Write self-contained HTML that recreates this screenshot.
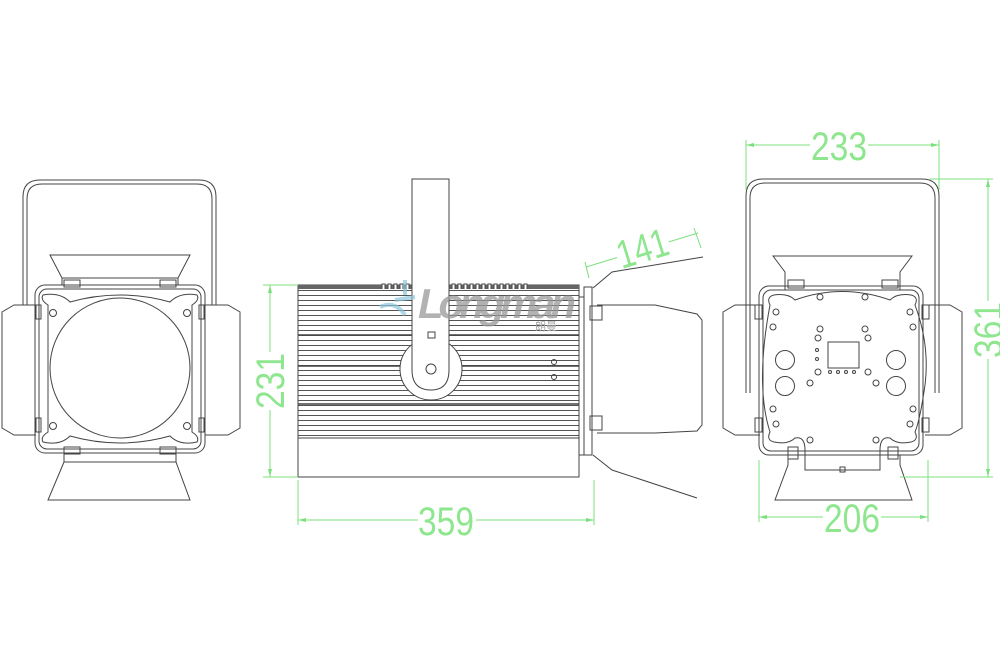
<!DOCTYPE html>
<html><head><meta charset="utf-8"><style>
html,body{margin:0;padding:0;background:#fff;width:1000px;height:667px;overflow:hidden}
svg{display:block}
.d{font-family:"Liberation Sans",sans-serif;fill:#8ee68e;font-size:40px}
</style></head><body>
<svg width="1000" height="667" viewBox="0 0 1000 667" xmlns="http://www.w3.org/2000/svg">
<defs>
<pattern id="fins" width="10" height="5" patternUnits="userSpaceOnUse">
<rect width="10" height="5" fill="#fff"/><line x1="0" y1="0.5" x2="10" y2="0.5" stroke="#555" stroke-width="1"/>
</pattern>
</defs>
<g fill="none" stroke="#444" stroke-width="1">
<!-- LEFT VIEW -->
<path d="M23,305 V197 Q23,180 40,180 H199 Q216,180 216,197 V305"/>
<path d="M27,305 V199 Q27,184 42,184 H197 Q212,184 212,199 V305"/>
<path d="M50,255 H190 L178,278 V285 H62 V278 Z"/>
<line x1="62" y1="278" x2="178" y2="278"/>
<rect x="35" y="285" width="170" height="168" rx="10"/>
<rect x="39" y="289" width="162" height="160" rx="8"/>
<path d="M48,305 Q40,300 43,295 Q60,292 70,302 Q120,288 170,302 Q180,292 197,295 Q200,300 192,305 V432 Q200,437 197,442 Q180,446 170,436 Q120,450 70,436 Q60,446 43,442 Q40,437 48,432 Z"/>
<circle cx="120" cy="368" r="70"/>
<circle cx="53" cy="313" r="3.5"/><circle cx="187" cy="313" r="3.5"/><circle cx="53" cy="426" r="3.5"/><circle cx="187" cy="426" r="3.5"/>
<path d="M36,305 H14 L2,312 V428 L14,435 H36"/>
<path d="M205,305 H228 L240,312 V428 L228,435 H205"/>
<rect x="36" y="305" width="5" height="14"/><rect x="199" y="305" width="5" height="14"/>
<rect x="36" y="418" width="5" height="14"/><rect x="199" y="418" width="5" height="14"/>
<rect x="64" y="280" width="16" height="7"/><rect x="160" y="280" width="16" height="7"/>
<rect x="64" y="447" width="16" height="7"/><rect x="160" y="447" width="16" height="7"/>
<path d="M64,454 V462 L48,500 H190 L176,462 V454"/>
<line x1="64" y1="462" x2="176" y2="462"/>

<!-- MIDDLE VIEW -->
<rect x="298" y="287" width="281" height="151" fill="url(#fins)" stroke="#444"/>
<rect x="298" y="285" width="281" height="192"/>
<rect x="298" y="285" width="281" height="4" fill="#666" stroke="none"/>
<line x1="298" y1="438" x2="579" y2="438"/>
<line x1="298" y1="404" x2="579" y2="404" stroke-width="1.5"/>
<line x1="298" y1="366" x2="579" y2="366" stroke-width="1.5"/>
<line x1="298" y1="335" x2="579" y2="335" stroke-width="1.5"/>
<g stroke-width="1" fill="#fff">
<path d="M382,289 v-5 h3 v5 M388,289 v-5 h3 v5 M394,289 v-5 h3 v5 M400,289 v-5 h3 v5 M406,289 v-5 h3 v5"/>
<path d="M452,289 v-5 h3 v5 M458,289 v-5 h3 v5 M464,289 v-5 h3 v5 M470,289 v-5 h3 v5 M476,289 v-5 h3 v5 M482,289 v-5 h3 v5 M488,289 v-5 h3 v5 M494,289 v-5 h3 v5 M500,289 v-5 h3 v5 M506,289 v-5 h3 v5 M512,289 v-5 h3 v5 M518,289 v-5 h3 v5 M524,289 v-5 h3 v5"/>
</g>
<circle cx="431" cy="369" r="31" fill="#fff"/>
<path d="M412,179 H449 V370 Q449,390 431,390 Q412,390 412,370 Z" fill="#fff"/>
<rect x="428" y="332" width="7" height="6"/>
<circle cx="431" cy="369" r="5"/>
<circle cx="554" cy="362" r="2.5"/><circle cx="554" cy="377" r="2.5"/>
<rect x="579" y="297" width="5" height="158"/>
<rect x="584" y="287" width="8" height="168"/>
<path d="M597,305 H655 L697,314 L702,320 V425 L697,431 L655,433 H597"/>
<rect x="590" y="306" width="12" height="14"/><rect x="590" y="416" width="12" height="14"/>
<path d="M593,288 L612,272 L703,257"/>
<path d="M593,455 L612,470 L697,498"/>

<!-- logo -->
<text x="418" y="318" font-family="Liberation Sans,sans-serif" font-size="42" font-weight="bold" font-style="italic" fill="#999" stroke="none" opacity="0.75" textLength="158">Longman</text>
<text x="535" y="330" font-family="Liberation Sans,Noto Sans CJK SC,sans-serif" font-size="11" fill="#aaa" stroke="none">朗曼</text>
<path d="M380,307 Q395,300 405,315 M395,300 L415,297 M405,295 V280" stroke="#8cc4d8" stroke-width="4" opacity="0.7"/>

<!-- RIGHT VIEW -->
<path d="M746,393 V196 Q746,179 763,179 H922 Q939,179 939,196 V393"/>
<path d="M750,393 V198 Q750,183 765,183 H920 Q935,183 935,198 V393"/>
<path d="M773,256 H912 L900,272 V290 H785 V272 Z"/>
<rect x="759" y="286" width="164" height="169" rx="10"/>
<rect x="763" y="290" width="156" height="161" rx="8"/>
<path d="M770,305 Q766,297 774,295 Q788,293 795,300 Q842,283 890,300 Q897,293 911,295 Q919,297 915,305 Q930,345 925,385 Q920,420 915,432 Q919,440 911,442 Q897,445 890,438 Q880,436 880,450 V470 H805 V450 Q805,436 795,438 Q788,445 774,442 Q766,440 770,432 Q755,385 770,305 Z"/>
<path d="M760,305 H735 L723,312 V428 L735,435 H760"/>
<path d="M925,305 H950 L962,312 V428 L950,435 H925"/>
<rect x="755" y="305" width="7" height="14"/><rect x="922" y="305" width="7" height="14"/>
<rect x="755" y="418" width="7" height="14"/><rect x="922" y="418" width="7" height="14"/>
<rect x="788" y="280" width="16" height="8"/><rect x="882" y="280" width="16" height="8"/>
<path d="M788,455 V465 L775,500 H912 L900,465 V455"/>
<rect x="788" y="447" width="10" height="12"/><rect x="888" y="447" width="10" height="12"/>
<rect x="828" y="342" width="31" height="26"/>
<circle cx="785" cy="360" r="9.5"/><circle cx="785" cy="386" r="9.5"/>
<circle cx="896" cy="360" r="9.5"/><circle cx="896" cy="386" r="9.5"/>
<circle cx="820" cy="297" r="3"/><circle cx="865" cy="297" r="3"/>
<circle cx="820" cy="329" r="3"/><circle cx="865" cy="329" r="3"/>
<circle cx="818" cy="338" r="3"/><circle cx="868" cy="338" r="3"/>
<circle cx="818" cy="372" r="3"/><circle cx="868" cy="372" r="3"/>
<circle cx="810" cy="383" r="3"/><circle cx="876" cy="383" r="3"/>
<circle cx="810" cy="440" r="3"/><circle cx="876" cy="440" r="3"/>
<circle cx="776" cy="312" r="3"/><circle cx="910" cy="312" r="3"/>
<circle cx="773" cy="327" r="3"/><circle cx="913" cy="327" r="3"/>
<circle cx="773" cy="409" r="3"/><circle cx="913" cy="409" r="3"/>
<circle cx="776" cy="424" r="3"/><circle cx="910" cy="424" r="3"/>
<circle cx="830" cy="372" r="1.5"/><circle cx="838" cy="372" r="1.5"/><circle cx="846" cy="372" r="1.5"/><circle cx="854" cy="372" r="1.5"/>
<circle cx="817" cy="350" r="1.5"/><circle cx="817" cy="359" r="1.5"/>
<rect x="840" y="467" width="5" height="5"/>
</g>

<!-- DIMENSIONS -->
<g stroke="#7be07b" stroke-width="1" fill="none">
<line x1="263" y1="285" x2="298" y2="285"/><line x1="263" y1="477" x2="298" y2="477"/>
<line x1="270" y1="285" x2="270" y2="477"/>
<line x1="298" y1="480" x2="298" y2="525"/><line x1="594" y1="480" x2="594" y2="525"/>
<line x1="298" y1="520" x2="594" y2="520"/>
<line x1="585" y1="262" x2="589" y2="278"/><line x1="694" y1="228" x2="701" y2="248"/>
<line x1="586" y1="267" x2="698" y2="233"/>
<line x1="746" y1="140" x2="746" y2="190"/><line x1="939" y1="140" x2="939" y2="190"/>
<line x1="746" y1="145" x2="939" y2="145"/>
<line x1="930" y1="179" x2="993" y2="179"/><line x1="900" y1="477" x2="993" y2="477"/>
<line x1="988" y1="179" x2="988" y2="477"/>
<line x1="759" y1="460" x2="759" y2="522"/><line x1="928" y1="460" x2="928" y2="522"/>
<line x1="759" y1="517" x2="928" y2="517"/>
</g>
<g fill="#7be07b">
<path d="M270,285 l-2,8 h4z M270,477 l-2,-8 h4z M298,520 l8,-2 v4z M594,520 l-8,-2 v4z M746,145 l8,-2 v4z M939,145 l-8,-2 v4z M988,179 l-2,8 h4z M988,477 l-2,-8 h4z M759,517 l8,-2 v4z M928,517 l-8,-2 v4z"/>
</g>
<g class="d">
<rect x="418" y="505" width="58" height="32" fill="#fff"/>
<text x="446" y="535" text-anchor="middle" textLength="56" lengthAdjust="spacingAndGlyphs">359</text>
<rect x="810" y="130" width="58" height="32" fill="#fff"/>
<text x="839" y="160" text-anchor="middle" textLength="56" lengthAdjust="spacingAndGlyphs">233</text>
<rect x="823" y="502" width="58" height="32" fill="#fff"/>
<text x="852" y="532" text-anchor="middle" textLength="56" lengthAdjust="spacingAndGlyphs">206</text>
<g transform="translate(270,381) rotate(-90)"><rect x="-29" y="-15" width="58" height="30" fill="#fff"/><text x="0" y="14" text-anchor="middle" textLength="56" lengthAdjust="spacingAndGlyphs">231</text></g>
<g transform="translate(988,330) rotate(-90)"><rect x="-29" y="-15" width="58" height="30" fill="#fff"/><text x="0" y="14" text-anchor="middle" textLength="56" lengthAdjust="spacingAndGlyphs">361</text></g>
<g transform="translate(643,250) rotate(-17)"><rect x="-27" y="-18" width="54" height="24" fill="#fff"/><text x="0" y="12" text-anchor="middle" textLength="52" lengthAdjust="spacingAndGlyphs">141</text></g>
</g>
</svg>
</body></html>
